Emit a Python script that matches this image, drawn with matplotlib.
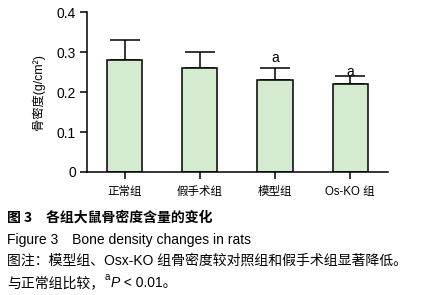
import matplotlib
matplotlib.use("Agg")
import matplotlib.pyplot as plt

plt.rcParams['font.family'] = ['Liberation Sans', 'Noto Sans CJK SC', 'DejaVu Sans']

categories = ['正常组', '假手术组', '模型组', 'Os-KO 组']
means = [0.28, 0.26, 0.23, 0.22]
errors = [0.05, 0.04, 0.03, 0.02]
sig_labels = ['', '', 'a', 'a']
yticks = [0, 0.1, 0.2, 0.3, 0.4]
ytick_labels = ['0', '0.1', '0.2', '0.3', '0.4']

# vertical nudges for the significance letters (styling only)
sig_nudge = [0, 0, 0.008, -0.007]

fig = plt.figure(figsize=(4.22, 2.95), dpi=100)
ax = fig.add_axes([0.206, 0.417, 0.713, 0.542])
x = list(range(len(categories)))
ax.bar(x, means, width=0.47, color='#d4ebcf', edgecolor='black', linewidth=1.1, zorder=2)
ax.errorbar(x, means, yerr=[[0]*len(errors), errors], fmt='none', ecolor='black',
            elinewidth=1.1, capsize=10.5, capthick=1.1, zorder=1)
for xi, m, e, s, n in zip(x, means, errors, sig_labels, sig_nudge):
    if s:
        ax.text(xi, m + e + n, s, ha='center', va='bottom', fontsize=10, zorder=3)
ax.set_xlim(-0.5, 3.5)
ax.set_ylim(0, 0.4)
ax.set_yticks(yticks)
ax.set_yticklabels(ytick_labels, fontsize=10)
ax.set_xticks(x)
ax.set_xticklabels(categories, fontsize=8.3)
ax.spines['top'].set_visible(False)
ax.spines['right'].set_visible(False)
for sp in ['left', 'bottom']:
    ax.spines[sp].set_linewidth(1.1)
ax.tick_params(axis='both', width=1.1, length=5, direction='out')
ax.tick_params(axis='y', pad=3)
ax.tick_params(axis='x', pad=5)
ax.set_ylabel('骨密度(g/cm²)', fontsize=8.8, labelpad=8)

fs = 10
x0 = 0.017
fig.text(x0, 1 - 218/295, '图 3　各组大鼠骨密度含量的变化', fontsize=fs, fontweight='bold',
         family=['Noto Sans CJK SC'], va='center')
fig.text(x0, 1 - 240/295, 'Figure 3　Bone density changes in rats', fontsize=fs, va='center',
         family=['Liberation Sans', 'Noto Sans CJK SC'])
fig.text(x0, 1 - 261/295, '图注：模型组、Osx-KO 组骨密度较对照组和假手术组显著降低。', fontsize=fs, va='center',
         family=['Liberation Sans', 'Noto Sans CJK SC'])

y4 = 1 - 283/295
t1 = fig.text(x0, y4, '与正常组比较，', fontsize=fs, va='center', family=['Noto Sans CJK SC'])
fig.canvas.draw()
r = fig.canvas.get_renderer()
bb = t1.get_window_extent(r)
t2 = fig.text(bb.x1 / fig.bbox.width, y4 + 0.02, 'a', fontsize=7, va='center', family=['Liberation Sans'])
bb2 = t2.get_window_extent(r)
t3 = fig.text(bb2.x1 / fig.bbox.width + 0.002, y4, 'P', fontsize=fs, style='italic', va='center', family=['Liberation Sans'])
bb3 = t3.get_window_extent(r)
fig.text(bb3.x1 / fig.bbox.width, y4, ' < 0.01。', fontsize=fs, va='center', family=['Liberation Sans', 'Noto Sans CJK SC'])

fig.savefig('out.png', dpi=100)
